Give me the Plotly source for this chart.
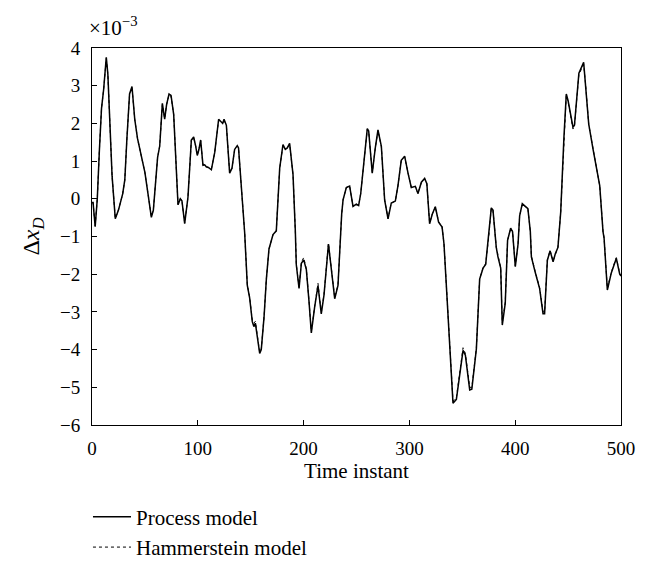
import plotly.graph_objects as go

# Time instants (sampled along the curve) and values (x1e-3)
time_instant = [0, 1, 3, 5, 7, 9, 11, 13.5, 15, 17, 19, 22, 25, 29, 31, 33, 35.5, 37.8, 40.4, 43,
                46.6, 50, 52.9, 56.1, 58, 60, 62, 64, 66.5, 68.7, 70.5, 72.8, 74.7, 77.2, 79, 81.3,
                83.5, 85, 87.6, 90.7, 93.9, 96.1, 98, 99.5, 101, 102.7, 104.9, 106.5, 108, 110,
                112.8, 116, 119.7, 122.3, 123.5, 124.8, 127, 130.1, 132.3, 134.8, 137.3, 138.5,
                141.1, 144.3, 146.8, 149, 151.5, 153, 154.4, 156.3, 158.5, 160, 162.6, 164.8,
                167.3, 171.1, 174.2, 177.4, 180.5, 182.7, 184.6, 186.8, 190, 192.2, 193.1, 195.7,
                197.9, 200.1, 202.6, 205.1, 207.3, 210.4, 213.6, 216.7, 219.3, 223.5, 226.2,
                229.4, 232.5, 234.5, 236, 237.3, 240.4, 243.5, 246.7, 249.8, 252, 254, 257.1,
                260.2, 261.5, 264.9, 267.8, 270.3, 273.5, 276.6, 279.8, 282.9, 286.7, 289.2,
                292.3, 295.5, 298.7, 301.8, 305.6, 308.1, 311.3, 314.4, 316.5, 319.1, 321.6,
                324.5, 327.6, 329.6, 330.9, 332.7, 336.5, 339, 341.2, 344.4, 347.5, 350.7, 352.9,
                357, 359, 363.3, 366.4, 369.6, 372.1, 374.9, 377.4, 379, 382.1, 383.7, 386.3,
                387.8, 390.6, 392.8, 395.7, 397.5, 399, 400.1, 402.7, 404.2, 406.7, 410.5, 412,
                414.3, 415.3, 419.1, 423.1, 426.3, 427.8, 430.4, 433, 435.8, 437.9, 440.4, 443,
                446.1, 448.3, 450, 454.6, 456, 460.2, 464.7, 466.6, 469.5, 473.6, 479.9, 483,
                484, 487.1, 490.9, 495.6, 498.8, 500]

process_model = [-0.1, -0.1, -0.74, 0.0, 1.3, 2.4, 2.9, 3.75, 3.3, 2.0, 0.6, -0.53, -0.3, 0.13, 0.5,
                 1.6, 2.78, 2.98, 2.11, 1.6, 1.15, 0.7, 0.14, -0.49, -0.3, 0.5, 1.1, 1.4, 2.53, 2.11,
                 2.5, 2.78, 2.74, 2.24, 1.0, -0.16, 0.0, -0.05, -0.66, 0.04, 1.56, 1.64, 1.4, 1.15,
                 1.3, 1.56, 0.89, 0.9, 0.85, 0.83, 0.77, 1.23, 2.11, 2.05, 2.0, 2.11, 1.95, 0.68,
                 0.81, 1.31, 1.41, 1.35, 0.3, -0.9, -2.3, -2.63, -3.26, -3.39, -3.3, -3.64, -4.1,
                 -4.0, -3.14, -2.13, -1.33, -0.95, -0.85, 0.81, 1.44, 1.31, 1.35, 1.47, 0.64, -0.87,
                 -1.75, -2.38, -1.71, -1.62, -1.88, -2.72, -3.56, -2.88, -2.3, -3.05, -2.55, -1.2,
                 -1.88, -2.65, -2.3, -1.1, -0.4, -0.03, 0.3, 0.34, -0.2, -0.14, -0.18, 0.14, 1.06,
                 1.86, 1.8, 0.68, 1.36, 1.83, 1.39, -0.03, -0.53, -0.11, -0.06, 0.35, 1.02, 1.13,
                 0.68, 0.3, 0.33, 0.14, 0.44, 0.54, 0.4, -0.66, -0.41, -0.21, -0.62, -0.7, -0.75,
                 -1.2, -3.14, -4.56, -5.42, -5.32, -4.65, -4.02, -4.15, -5.07, -5.05, -3.98, -2.13,
                 -1.84, -1.74, -1.04, -0.24, -0.3, -1.29, -1.54, -1.84, -3.35, -2.77, -1.1, -0.78,
                 -0.87, -1.4, -1.8, -1.2, -0.45, -0.13, -0.24, -0.26, -0.87, -1.54, -1.97, -2.38,
                 -3.05, -3.05, -1.63, -1.38, -1.67, -1.46, -1.29, -0.36, 1.65, 2.78, 2.6, 1.9, 1.95,
                 3.33, 3.62, 3.04, 1.98, 1.31, 0.35, -0.87, -1.04, -2.42, -1.96, -1.58, -2.0, -2.05]

hammerstein_model = [-0.1, -0.1, -0.72, 0.0, 1.3, 2.4, 2.9, 3.72, 3.3, 2.0, 0.6, -0.52, -0.3, 0.13, 0.5,
                     1.6, 2.76, 2.95, 2.11, 1.6, 1.15, 0.7, 0.14, -0.47, -0.3, 0.5, 1.1, 1.4, 2.5, 2.13,
                     2.5, 2.76, 2.72, 2.24, 1.0, -0.15, 0.0, -0.05, -0.64, 0.04, 1.55, 1.62, 1.4, 1.16,
                     1.3, 1.54, 0.9, 0.9, 0.85, 0.83, 0.78, 1.23, 2.09, 2.03, 2.0, 2.09, 1.95, 0.7,
                     0.81, 1.3, 1.4, 1.35, 0.3, -0.9, -2.28, -2.6, -3.22, -3.3, -3.25, -3.62, -4.07,
                     -3.98, -3.14, -2.13, -1.33, -0.95, -0.85, 0.8, 1.42, 1.31, 1.35, 1.45, 0.64, -0.86,
                     -1.73, -2.35, -1.68, -1.56, -1.86, -2.7, -3.52, -2.86, -2.24, -3.02, -2.53, -1.18,
                     -1.86, -2.62, -2.28, -1.1, -0.4, -0.03, 0.3, 0.34, -0.2, -0.14, -0.18, 0.14, 1.06,
                     1.84, 1.79, 0.7, 1.35, 1.81, 1.38, -0.03, -0.52, -0.11, -0.06, 0.35, 1.01, 1.11,
                     0.69, 0.3, 0.33, 0.14, 0.43, 0.53, 0.4, -0.64, -0.41, -0.21, -0.61, -0.7, -0.74,
                     -1.2, -3.12, -4.52, -5.36, -5.27, -4.6, -3.95, -4.1, -5.0, -5.0, -3.96, -2.12,
                     -1.83, -1.72, -1.04, -0.25, -0.3, -1.28, -1.53, -1.83, -3.3, -2.74, -1.1, -0.78,
                     -0.87, -1.39, -1.78, -1.2, -0.45, -0.14, -0.24, -0.26, -0.86, -1.52, -1.95, -2.36,
                     -3.0, -3.0, -1.62, -1.37, -1.65, -1.45, -1.28, -0.36, 1.63, 2.75, 2.58, 1.85, 1.92,
                     3.3, 3.56, 3.02, 1.97, 1.31, 0.35, -0.86, -1.03, -2.38, -1.94, -1.56, -1.98, -2.03]

x_ticks = [0, 100, 200, 300, 400, 500]
y_ticks = [-6, -5, -4, -3, -2, -1, 0, 1, 2, 3, 4]

FONT = "Liberation Serif, Times New Roman, serif"

fig = go.Figure()
fig.add_trace(go.Scatter(x=time_instant, y=process_model, mode="lines", name="Process model",
                         line=dict(color="black", width=1.5)))
fig.add_trace(go.Scatter(x=time_instant, y=hammerstein_model, mode="lines", name="Hammerstein model",
                         line=dict(color="black", width=1, dash="dot")))

axis_common = dict(showgrid=False, zeroline=False, showline=True, linecolor="black", linewidth=1,
                   mirror=True, ticks="inside", ticklen=5, tickcolor="black", tickwidth=1,
                   tickfont=dict(family=FONT, size=19, color="black"))

fig.update_layout(
    width=645, height=572,
    margin=dict(l=84, r=32, t=40, b=135),
    paper_bgcolor="white", plot_bgcolor="white",
    font=dict(family=FONT, size=20, color="black"),
    xaxis=dict(range=[0, 500], tickvals=x_ticks, ticklabelstandoff=6,
               title=dict(text="Time instant", font=dict(family=FONT, size=21), standoff=5),
               **axis_common),
    yaxis=dict(range=[-6, 4], tickvals=y_ticks, ticklabelstandoff=7,
               title=dict(text="Δ<i>x</i><sub><i>D</i></sub>", font=dict(family=FONT, size=24), standoff=13),
               **axis_common),
    legend=dict(x=-0.0076, xanchor="left", y=-0.19, yanchor="top", itemwidth=38,
                font=dict(family=FONT, size=21), bgcolor="rgba(0,0,0,0)", tracegroupgap=0),
    showlegend=True,
    annotations=[dict(text="×10<sup>−3</sup>", xref="paper", yref="paper", x=-0.01, y=1.058,
                      xanchor="left", yanchor="middle", showarrow=False,
                      font=dict(family=FONT, size=21, color="black"))],
)

fig.write_html("out.html")
